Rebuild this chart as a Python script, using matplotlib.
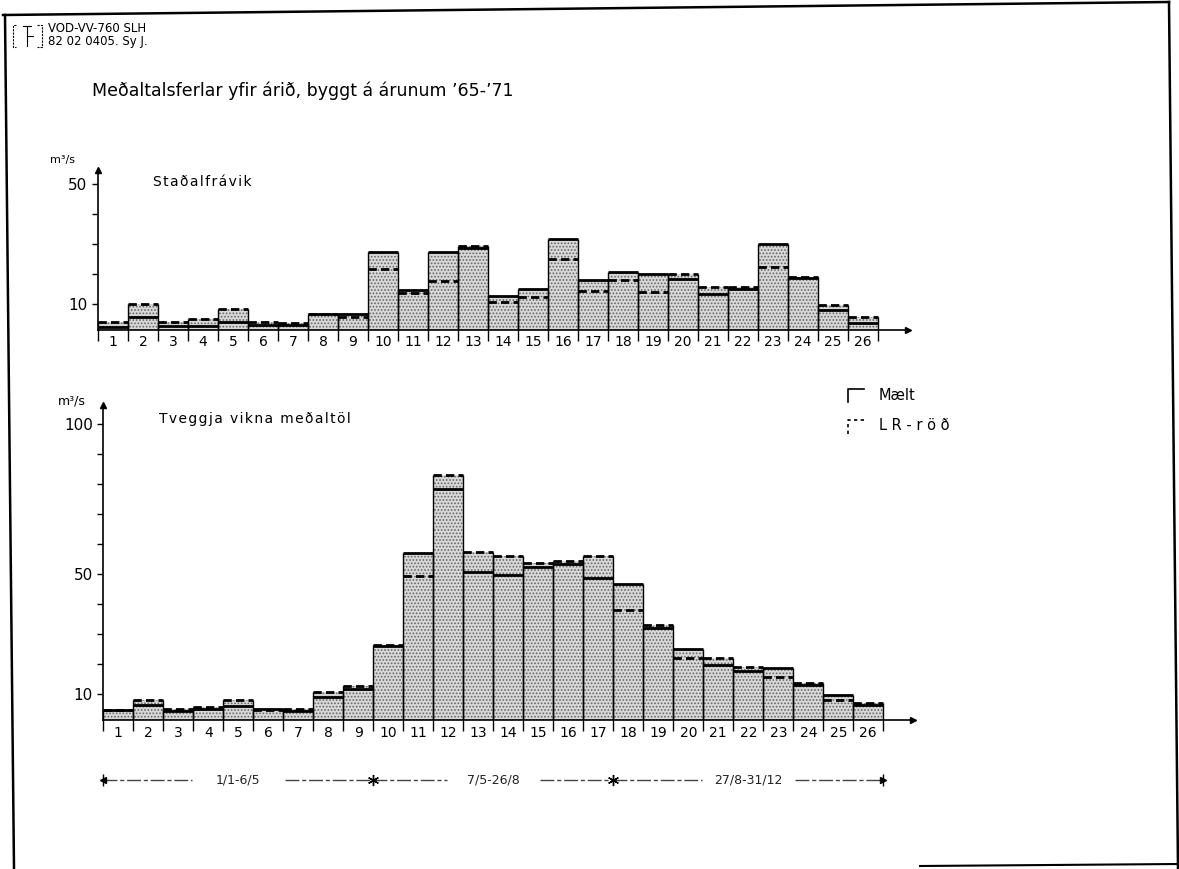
import matplotlib
matplotlib.use('Agg')
import numpy as np
import matplotlib.pyplot as plt
import matplotlib.transforms as mtransforms
from matplotlib.lines import Line2D

# Two-week periods of the year, numbered 1..26
periods = list(range(1, 27))

# Staðalfrávik (standard deviation), m3/s
std_maelt = [2.2, 5.4, 2.4, 2.5, 3.7, 3.0, 3.0, 6.5, 6.5, 27.3, 14.6, 27.2, 28.5,
             12.6, 14.9, 31.4, 17.7, 20.6, 19.8, 18.1, 13.1, 14.9, 30.0, 18.4, 7.8, 3.4]
std_lr = [3.8, 9.8, 3.8, 4.7, 8.1, 3.9, 3.5, 6.4, 5.4, 21.4, 13.6, 17.6, 29.1,
          10.6, 12.3, 24.8, 14.1, 18.0, 13.9, 19.7, 15.5, 15.4, 22.2, 18.8, 9.4, 5.4]

# Tveggja vikna meðaltöl (two-week means), m3/s
mean_maelt = [4.7, 6.2, 4.2, 5.0, 6.1, 4.9, 4.4, 9.0, 11.5, 25.9, 57.1, 78.3, 50.5,
              49.5, 52.3, 53.3, 48.5, 46.8, 32.1, 25.0, 19.8, 17.7, 18.8, 12.9, 9.6, 6.2]
mean_lr = [4.8, 8.1, 5.1, 5.6, 8.0, 4.8, 4.9, 10.7, 12.6, 26.4, 49.2, 83.0, 57.4,
           56.0, 53.6, 54.4, 56.1, 38.1, 32.9, 21.9, 22.0, 18.9, 15.5, 13.5, 7.9, 6.9]

# Seasons and how many periods each covers
season_labels = ['1/1-6/5', '7/5-26/8', '27/8-31/12']
season_lengths = [9, 8, 9]

W, H = 1179, 869
fig = plt.figure(figsize=(W / 100, H / 100), dpi=100)
fig.patch.set_facecolor('white')
plt.rcParams['font.family'] = ['DejaVu Sans']
plt.rcParams['hatch.linewidth'] = 0.8

HS = '\u200a'  # hair space for the spaced-out lettering

def spaced(s):
    return HS.join(s)

def fx(x):
    return x / W

def fy(y):
    return 1 - y / H

def fig_line(xs, ys, **kw):
    fig.add_artist(Line2D([fx(x) for x in xs], [fy(y) for y in ys],
                          transform=fig.transFigure, **kw))

YBASE = 1.33

def make_axes(left, right, base, top):
    ax = fig.add_axes([fx(left), fy(base), fx(right - left), (base - top) / H])
    ax.set_facecolor('none')
    ax.set_xlim(0, 27)
    ax.set_ylim(YBASE, YBASE + (base - top) / 3.0)
    for s in ('top', 'right'):
        ax.spines[s].set_visible(False)
    for s in ('left', 'bottom'):
        ax.spines[s].set_linewidth(1.2)
    ax.plot(0, 1, marker='^', color='k', markersize=5, transform=ax.transAxes, clip_on=False)
    ax.plot(1, 0, marker='>', color='k', markersize=5, transform=ax.transAxes, clip_on=False)
    # bar edges get ticks, centres get the period numbers
    ax.set_xticks(np.arange(0, 27), labels=[''] * 27)
    ax.tick_params(axis='x', which='major', direction='out', length=8, width=1)
    ax.set_xticks(np.arange(len(periods)) + 0.5, labels=[str(p) for p in periods], minor=True)
    ax.tick_params(axis='x', which='minor', length=0, pad=4, labelsize=10)
    ax.tick_params(axis='y', which='both', direction='out', length=4, width=1, labelsize=11)
    return ax

def draw_bars(ax, maelt, lr):
    x0 = np.arange(len(maelt))
    top = np.maximum(maelt, lr)
    ax.bar(x0, top - YBASE, bottom=YBASE, width=1, align='edge',
           color='#d8d8d8', edgecolor='none', zorder=1)
    # stipple on top of the flat grey
    ax.bar(x0, top - YBASE, bottom=YBASE, width=1, align='edge',
           facecolor='none', edgecolor='#666666', linewidth=0, hatch='.....', zorder=2)
    for i in range(len(maelt)):
        ax.vlines([i, i + 1], YBASE, top[i], color='k', lw=1.0, zorder=3)
        ax.hlines(maelt[i], i, i + 1, color='k', lw=2.0, zorder=4)
        ax.hlines(lr[i], i, i + 1, color='k', lw=2.0, linestyles=(0, (3, 1.5)), zorder=5)

# upper chart: standard deviation
ax1 = make_axes(98, 908, 329.6, 170)
draw_bars(ax1, std_maelt, std_lr)
ax1.set_yticks([10, 50], labels=['10', '50'])
ax1.set_yticks([20, 30, 40], minor=True)
fig.text(fx(50), fy(160), 'm³/s', fontsize=8, va='center')
fig.text(fx(153), fy(182), spaced('Staðalfrávik'), fontsize=10, va='center')

# lower chart: two-week means
ax2 = make_axes(103.3, 913.3, 720, 405)
draw_bars(ax2, mean_maelt, mean_lr)
ax2.set_yticks([10, 50, 100], labels=['10', '50', '100'])
ax2.set_yticks([20, 30, 40, 60, 70, 80, 90], minor=True)
fig.text(fx(58), fy(401), 'm³/s', fontsize=9, va='center')
fig.text(fx(159), fy(419), spaced('Tveggja vikna meðaltöl'), fontsize=10, va='center')

# legend
fig_line([848, 848, 864], [402, 389, 389], color='k', lw=1.2)
fig_line([848, 848, 864], [434, 420, 420], color='k', lw=1.2, linestyle=(0, (2, 2)))
fig.text(fx(879), fy(395), 'Mælt', fontsize=10.5, va='center')
fig.text(fx(879), fy(426), 'L R - r ö ð', fontsize=10.5, va='center')

# season brackets under the lower chart
tr = mtransforms.blended_transform_factory(ax2.transData, fig.transFigure)
yb = fy(780)
edges = np.concatenate([[0], np.cumsum(season_lengths)])
gap = 1.55
for k, lab in enumerate(season_labels):
    a, b = edges[k], edges[k + 1]
    mid = (a + b) / 2
    for s0, s1 in ((a, mid - gap), (mid + gap, b)):
        fig.add_artist(Line2D([s0, s1], [yb, yb], transform=tr, color='#444444',
                              lw=1.0, linestyle=(0, (10, 2, 3, 2))))
    fig.text(mid, yb, lab, transform=tr, fontsize=9, ha='center', va='center', color='#222222')
for e in edges[1:-1]:
    fig.add_artist(Line2D([e], [yb], transform=tr, marker=(6, 2, 0), markersize=8,
                          color='k', mew=1.0))
fig.add_artist(Line2D([edges[0]], [yb], transform=tr, marker='<', markersize=5, color='k'))
fig.add_artist(Line2D([edges[-1]], [yb], transform=tr, marker='>', markersize=5, color='k'))
fig.add_artist(Line2D([edges[0]], [yb], transform=tr, marker='|', markersize=9, color='k'))
fig.add_artist(Line2D([edges[-1]], [yb], transform=tr, marker='|', markersize=9, color='k'))

# title and drawing number
fig.text(fx(92), fy(91), 'Meðaltalsferlar yfir árið, byggt á árunum \u201965-\u201971',
         fontsize=12.5, va='center')
fig.text(fx(48), fy(29), 'VOD-VV-760 SLH', fontsize=8.5, va='center')
fig.text(fx(48), fy(42), '82 02 0405. Sy J.', fontsize=8.5, va='center')
fig_line([16, 13, 13, 16], [25, 25, 47, 47], color='k', lw=0.8, linestyle=(0, (2, 1)))
fig_line([23, 31], [26, 26], color='k', lw=0.8)
fig_line([27, 27], [26, 46], color='k', lw=0.8)
fig_line([27, 33], [36, 36], color='k', lw=0.8)
fig_line([37, 42, 42, 37], [25, 25, 47, 47], color='k', lw=0.8, linestyle=(0, (2, 1)))

# sheet border
fig_line([3, 1169], [15, 2], color='k', lw=1.8)
fig_line([1169, 1178], [2, 869], color='k', lw=1.8)
fig_line([5, 14], [15, 869], color='k', lw=1.8)
fig_line([920, 1179], [866, 864], color='k', lw=1.5)

fig.savefig('out.png', dpi=100, facecolor='white')
